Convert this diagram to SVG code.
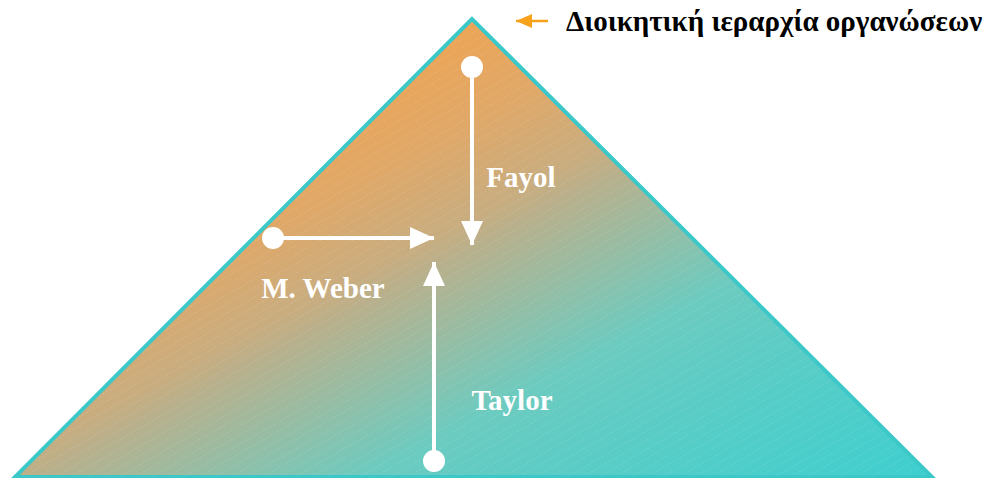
<svg xmlns="http://www.w3.org/2000/svg" width="994" height="478" viewBox="0 0 994 478">
<defs>
<linearGradient id="g" gradientUnits="userSpaceOnUse" x1="472" y1="19" x2="760" y2="567">
<stop offset="0" stop-color="#eca556"/>
<stop offset="0.145" stop-color="#e0a868"/>
<stop offset="0.284" stop-color="#c8ad80"/>
<stop offset="0.328" stop-color="#b8b08c"/>
<stop offset="0.45" stop-color="#94bea6"/>
<stop offset="0.574" stop-color="#6ccbc0"/>
<stop offset="0.667" stop-color="#60ccc4"/>
<stop offset="1" stop-color="#3ecfcf"/>
</linearGradient>
<pattern id="hatch" patternUnits="userSpaceOnUse" width="8" height="8" patternTransform="rotate(-30)">
<line x1="0" y1="0" x2="8" y2="0" stroke="#ffffff" stroke-opacity="0.22" stroke-width="1" stroke-dasharray="2 2"/>
</pattern>
<marker id="ah" markerUnits="userSpaceOnUse" markerWidth="26" markerHeight="22" refX="24" refY="11" orient="auto">
<path d="M0,0 L24,11 L0,22 Z" fill="#ffffff"/>
</marker>
<marker id="oa" markerUnits="userSpaceOnUse" markerWidth="16" markerHeight="14" refX="16" refY="7" orient="auto">
<path d="M0,0 L16,7 L0,14 Z" fill="#f7a21a"/>
</marker>
</defs>
<style>
.lbl{font-family:"Liberation Serif","DejaVu Serif",serif;font-weight:bold;font-size:29px;fill:#ffffff;text-anchor:middle}
.legend{font-family:"Liberation Serif","DejaVu Serif",serif;font-weight:bold;font-size:29px;fill:#000000}
.conn{stroke:#ffffff;stroke-width:4;fill:none;marker-end:url(#ah)}
.dot{fill:#ffffff}
</style>
<g id="pyramid">
<polygon points="472,19 15,477 932,477" fill="url(#g)"/>
<polygon points="472,19 15,477 932,477" fill="url(#hatch)"/>
<polygon points="472,19 15,477 932,477" fill="none" stroke="#3cc8c8" stroke-width="4" stroke-linejoin="miter"/>
</g>
<g id="connectors">
<line class="conn" x1="472" y1="67" x2="472" y2="245"/>
<line class="conn" x1="273" y1="238" x2="434" y2="238"/>
<line class="conn" x1="434" y1="461" x2="434" y2="262"/>
</g>
<g id="fayol">
<circle class="dot" cx="472" cy="67" r="11"/>
<text class="lbl" x="521" y="187">Fayol</text>
</g>
<g id="weber">
<circle class="dot" cx="273" cy="238" r="11"/>
<text class="lbl" x="323" y="298">M. Weber</text>
</g>
<g id="taylor">
<circle class="dot" cx="434" cy="461" r="11"/>
<text class="lbl" x="512" y="410">Taylor</text>
</g>
<g id="legend">
<line x1="548" y1="21" x2="516" y2="21" stroke="#f7a21a" stroke-width="2.5" marker-end="url(#oa)"/>
<text class="legend" x="566" y="31">Διοικητική ιεραρχία οργανώσεων</text>
</g>
</svg>
